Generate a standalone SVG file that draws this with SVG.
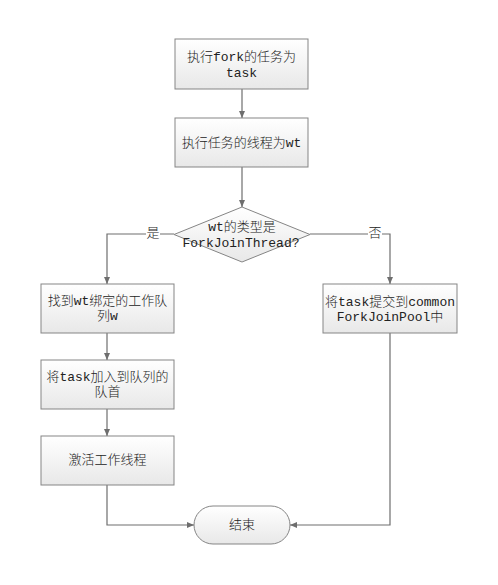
<svg xmlns="http://www.w3.org/2000/svg" width="498" height="585" viewBox="0 0 498 585">
<defs>
<linearGradient id="g" x1="0" y1="0" x2="0" y2="1">
<stop offset="0" stop-color="#ffffff"/>
<stop offset="1" stop-color="#e8e8e8"/>
</linearGradient>
<marker id="a" viewBox="0 0 7 6" refX="7" refY="3" markerWidth="7" markerHeight="6" markerUnits="userSpaceOnUse" orient="auto">
<path d="M0,0 L7,3 L0,6 Z" fill="#6e6e6e"/>
</marker>
<style>
.n{fill:url(#g);stroke:#858585;stroke-width:1}
.t{font-family:"Liberation Mono","Noto Sans CJK SC",monospace;font-size:13px;font-weight:300;fill:#222;text-anchor:middle;dominant-baseline:central}
.c{fill:none;stroke:#6e6e6e;stroke-width:1.2}
.lb{fill:#ffffff}
</style>
</defs>
<rect width="498" height="585" fill="#ffffff"/>
<g id="connectors">
<path class="c" d="M242,89 V118" marker-end="url(#a)"/>
<path class="c" d="M242,167 V207" marker-end="url(#a)"/>
<path class="c" d="M174,234 H107 V284" marker-end="url(#a)"/>
<path class="c" d="M310,234 H390 V284" marker-end="url(#a)"/>
<path class="c" d="M107,333 V360" marker-end="url(#a)"/>
<path class="c" d="M107,409 V436" marker-end="url(#a)"/>
<path class="c" d="M107,485 V525 H194" marker-end="url(#a)"/>
<path class="c" d="M390,333 V525 H290" marker-end="url(#a)"/>
<rect class="lb" x="146" y="226" width="14" height="15"/>
<text class="t" x="153" y="233">是</text>
<rect class="lb" x="368" y="226" width="14" height="15"/>
<text class="t" x="375" y="233">否</text>
</g>
<g id="n1">
<rect class="n" x="175" y="39" width="133" height="50"/>
<text class="t" x="241.5" y="57">执行fork的任务为</text>
<text class="t" x="241.5" y="73">task</text>
</g>
<g id="n2">
<rect class="n" x="175" y="118" width="133" height="49"/>
<text class="t" x="241.5" y="143">执行任务的线程为wt</text>
</g>
<g id="n3">
<polygon class="n" points="242,207 310,234.5 242,262 174,234.5"/>
<text class="t" x="242" y="227">wt的类型是</text>
<text class="t" x="241" y="243">ForkJoinThread?</text>
</g>
<g id="n4">
<rect class="n" x="41" y="284" width="133" height="49"/>
<text class="t" x="107.5" y="301">找到wt绑定的工作队</text>
<text class="t" x="107.5" y="316">列w</text>
</g>
<g id="n5">
<rect class="n" x="41" y="360" width="133" height="49"/>
<text class="t" x="107.5" y="377">将task加入到队列的</text>
<text class="t" x="107.5" y="392">队首</text>
</g>
<g id="n6">
<rect class="n" x="41" y="436" width="133" height="49"/>
<text class="t" x="107.5" y="460">激活工作线程</text>
</g>
<g id="n7">
<rect class="n" x="323" y="284" width="134" height="49"/>
<text class="t" x="390" y="302">将task提交到common</text>
<text class="t" x="390" y="317">ForkJoinPool中</text>
</g>
<g id="n8">
<rect class="n" x="194" y="506" width="96" height="38" rx="19" ry="19"/>
<text class="t" x="242" y="525">结束</text>
</g>
</svg>
